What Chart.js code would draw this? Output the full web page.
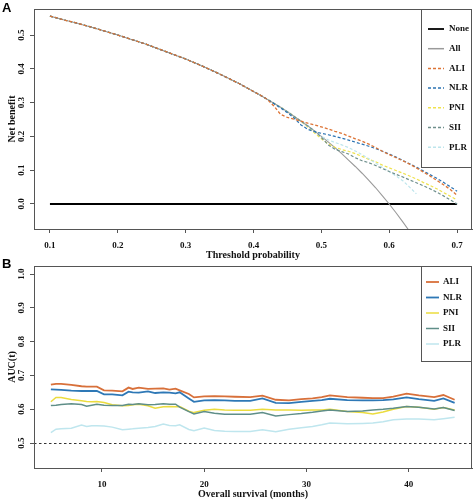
<!DOCTYPE html>
<html>
<head>
<meta charset="utf-8">
<script src="https://cdn.jsdelivr.net/npm/chart.js@4.4.1/dist/chart.umd.min.js"></script>
<style>
  html, body { margin: 0; padding: 0; background: #fff; }
  #wrap { position: relative; width: 475px; height: 500px; overflow: hidden; }
  canvas { position: absolute; left: 0; }
  #chartA { top: 0; }
  #chartB { top: 250px; }
</style>
</head>
<body>
<div id="wrap">
  <canvas id="chartA" width="475" height="262"></canvas>
  <canvas id="chartB" width="475" height="250"></canvas>
</div>
<script>
// ---- Panel A: decision curves ----
const thresholds = [0.10, 0.12, 0.14, 0.16, 0.18, 0.20, 0.22, 0.24, 0.26, 0.28, 0.30, 0.32, 0.34, 0.36, 0.38, 0.40,
  0.41, 0.42, 0.43, 0.44, 0.45, 0.46, 0.47, 0.48, 0.49, 0.50,
  0.51, 0.52, 0.53, 0.54, 0.55, 0.56, 0.57, 0.58, 0.59, 0.60,
  0.61, 0.62, 0.63, 0.64, 0.65, 0.66, 0.67, 0.68, 0.69, 0.70];
const noneX = [0.1, 0.7];
const noneNB = [0, 0];
const allNB = [0.556, 0.545, 0.535, 0.524, 0.512, 0.500, 0.487, 0.474, 0.459, 0.444, 0.429, 0.412, 0.394, 0.375, 0.355, 0.333,
  0.322, 0.310, 0.298, 0.286, 0.273, 0.259, 0.245, 0.231, 0.216, 0.200,
  0.184, 0.167, 0.149, 0.130, 0.111, 0.091, 0.070, 0.048, 0.024, 0.000,
  -0.026, -0.053, -0.081, -0.111, null, null, null, null, null, null];
const aliNB = [0.556, 0.545, 0.535, 0.524, 0.512, 0.500, 0.487, 0.474, 0.459, 0.444, 0.429, 0.412, 0.394, 0.375, 0.355, 0.333,
  0.322, 0.310, 0.290, 0.265, 0.256, 0.251, 0.245, 0.239, 0.234, 0.228,
  0.222, 0.215, 0.209, 0.201, 0.193, 0.186, 0.177, 0.167, 0.156, 0.146,
  0.137, 0.128, 0.118, 0.107, 0.095, 0.083, 0.070, 0.057, 0.043, 0.026];
const nlrNB = [0.556, 0.545, 0.535, 0.524, 0.512, 0.500, 0.487, 0.474, 0.459, 0.444, 0.429, 0.412, 0.394, 0.375, 0.355, 0.333,
  0.322, 0.310, 0.297, 0.284, 0.270, 0.254, 0.234, 0.221, 0.214, 0.209,
  0.205, 0.200, 0.195, 0.189, 0.183, 0.177, 0.171, 0.164, 0.156, 0.148,
  0.139, 0.129, 0.119, 0.109, 0.098, 0.087, 0.076, 0.064, 0.051, 0.038];
const pniNB = [0.556, 0.545, 0.535, 0.524, 0.512, 0.500, 0.487, 0.474, 0.459, 0.444, 0.429, 0.412, 0.394, 0.375, 0.355, 0.333,
  0.322, 0.310, 0.298, 0.286, 0.273, 0.259, 0.245, 0.228, 0.210, 0.193,
  0.178, 0.168, 0.161, 0.156, 0.149, 0.141, 0.132, 0.125, 0.115, 0.107,
  0.099, 0.091, 0.083, 0.074, 0.064, 0.055, 0.045, 0.034, 0.023, 0.012];
const siiNB = [0.556, 0.545, 0.535, 0.524, 0.512, 0.500, 0.487, 0.474, 0.459, 0.444, 0.429, 0.412, 0.394, 0.375, 0.355, 0.333,
  0.322, 0.310, 0.298, 0.286, 0.273, 0.259, 0.245, 0.231, 0.216, 0.197,
  0.175, 0.162, 0.155, 0.148, 0.137, 0.128, 0.122, 0.114, 0.105, 0.096,
  0.088, 0.080, 0.071, 0.063, 0.054, 0.045, 0.035, 0.024, 0.012, 0.000];
const plrNB = [0.556, 0.545, 0.535, 0.524, 0.512, 0.500, 0.487, 0.474, 0.459, 0.444, 0.429, 0.412, 0.394, 0.375, 0.355, 0.333,
  0.322, 0.310, 0.298, 0.286, 0.273, 0.259, 0.245, 0.231, 0.214, 0.200,
  0.190, 0.182, 0.175, 0.167, 0.157, 0.146, 0.134, 0.121, 0.108, 0.096,
  0.083, 0.069, 0.050, 0.030, null, null, null, null, null, null];

// ---- Panel B: time-dependent AUC ----
const months = [5, 5.5, 6, 7, 8, 8.5, 9, 9.5, 10.2, 11, 12, 12.6, 13, 13.6, 14.5, 15.2, 16, 16.6, 17.2, 17.6,
  18.5, 19, 20, 21, 22, 23, 24.5, 25.7, 27, 28.3, 29.5, 30.6, 31.5, 32.3, 34, 35.5, 36.5, 37.5, 38.5, 39.8,
  41, 42.5, 43.4, 44.5];
const aliAUC = [0.673, 0.675, 0.675, 0.672, 0.668, 0.667, 0.667, 0.667, 0.656, 0.655, 0.653, 0.664, 0.660, 0.664, 0.660, 0.661, 0.662, 0.658, 0.661, 0.656,
  0.645, 0.635, 0.638, 0.639, 0.638, 0.637, 0.636, 0.640, 0.628, 0.626, 0.630, 0.632, 0.636, 0.641, 0.636, 0.634, 0.633, 0.633, 0.637, 0.646,
  0.641, 0.636, 0.642, 0.628];
const nlrAUC = [0.659, 0.658, 0.657, 0.655, 0.654, 0.654, 0.654, 0.654, 0.644, 0.644, 0.641, 0.652, 0.650, 0.649, 0.653, 0.648, 0.650, 0.649, 0.647, 0.650,
  0.632, 0.622, 0.626, 0.627, 0.626, 0.625, 0.625, 0.632, 0.619, 0.618, 0.622, 0.625, 0.627, 0.631, 0.627, 0.626, 0.626, 0.627, 0.629, 0.635,
  0.630, 0.625, 0.632, 0.619];
const pniAUC = [0.622, 0.635, 0.635, 0.629, 0.625, 0.623, 0.622, 0.623, 0.620, 0.613, 0.610, 0.611, 0.613, 0.615, 0.610, 0.603, 0.607, 0.608, 0.607, 0.608,
  0.594, 0.590, 0.597, 0.600, 0.598, 0.597, 0.597, 0.600, 0.598, 0.598, 0.597, 0.598, 0.598, 0.600, 0.593, 0.590, 0.586, 0.592, 0.600, 0.608,
  0.606, 0.600, 0.605, 0.598];
const siiAUC = [0.611, 0.612, 0.614, 0.616, 0.614, 0.609, 0.612, 0.615, 0.612, 0.611, 0.611, 0.615, 0.614, 0.616, 0.613, 0.614, 0.616, 0.615, 0.615, 0.606,
  0.593, 0.586, 0.593, 0.588, 0.585, 0.585, 0.585, 0.590, 0.580, 0.584, 0.587, 0.591, 0.595, 0.598, 0.593, 0.595, 0.598, 0.600, 0.603, 0.608,
  0.606, 0.601, 0.605, 0.596];
const plrAUC = [0.531, 0.541, 0.542, 0.544, 0.553, 0.549, 0.551, 0.551, 0.550, 0.547, 0.539, 0.541, 0.542, 0.544, 0.546, 0.549, 0.556, 0.552, 0.551, 0.554,
  0.540, 0.536, 0.544, 0.537, 0.535, 0.534, 0.534, 0.539, 0.533, 0.541, 0.545, 0.549, 0.554, 0.559, 0.557, 0.558, 0.559, 0.563, 0.569, 0.571,
  0.571, 0.569, 0.572, 0.576];

const SERIF = "'Liberation Serif', 'Times New Roman', serif";
const AXIS = '#555';

function pts(xs, ys) {
  return xs.map((x, i) => ({ x: x, y: ys[i] }));
}

// frame, legend box, reference line and panel tag
const panelDecor = {
  id: 'panelDecor',
  afterDatasetsDraw(chart, args, opts) {
    const ctx = chart.ctx;
    const a = chart.chartArea;
    ctx.save();
    if (opts.refY !== undefined) {
      const y = Math.round(chart.scales.y.getPixelForValue(opts.refY)) + 0.5;
      ctx.strokeStyle = '#333';
      ctx.lineWidth = 1;
      ctx.setLineDash([2.5, 2.5]);
      ctx.beginPath();
      ctx.moveTo(a.left, y);
      ctx.lineTo(a.right, y);
      ctx.stroke();
      ctx.setLineDash([]);
    }
    // legend
    const lg = opts.legend;
    ctx.fillStyle = '#fff';
    ctx.fillRect(lg.left, a.top, a.right - lg.left, lg.height);
    ctx.strokeStyle = AXIS;
    ctx.lineWidth = 1;
    ctx.strokeRect(lg.left + 0.5, a.top + 0.5, a.right - lg.left - 1, lg.height);
    ctx.font = 'bold 9px ' + SERIF;
    ctx.textBaseline = 'middle';
    ctx.textAlign = 'left';
    let row = 0;
    chart.data.datasets.forEach(ds => {
      const y = a.top + lg.firstRow + row * lg.rowGap;
      ctx.strokeStyle = ds.borderColor;
      ctx.lineWidth = Math.max(ds.borderWidth, 1.5);
      ctx.setLineDash(ds.borderDash || []);
      ctx.beginPath();
      ctx.moveTo(lg.lineX1, y);
      ctx.lineTo(lg.lineX2, y);
      ctx.stroke();
      ctx.setLineDash([]);
      ctx.fillStyle = '#111';
      ctx.fillText(ds.label, lg.textX, y);
      row++;
    });
    // plot frame
    ctx.strokeStyle = AXIS;
    ctx.lineWidth = 1;
    ctx.strokeRect(a.left + 0.5, a.top + 0.5, a.right - a.left - 1, a.bottom - a.top);
    // panel tag
    ctx.fillStyle = '#000';
    ctx.font = "bold 13px 'Liberation Sans', Arial, sans-serif";
    ctx.textBaseline = 'top';
    ctx.fillText(opts.tag, opts.tagX, opts.tagY);
    ctx.restore();
  }
};

function axisOpts(min, max, step, title, isY, sizeFix, digits, titlePad) {
  return {
    type: 'linear',
    min: min,
    max: max,
    title: {
      display: true,
      text: title,
      color: '#111',
      font: { family: SERIF, size: 10, weight: 'bold' },
      padding: titlePad
    },
    border: { display: true, color: AXIS, width: 1 },
    grid: { display: true, drawOnChartArea: false, drawTicks: true, tickLength: 4, color: AXIS },
    ticks: {
      stepSize: step,
      includeBounds: false,
      color: '#111',
      font: { family: SERIF, size: 9, weight: 'bold' },
      padding: isY ? 3 : 7,
      minRotation: isY ? 90 : 0,
      maxRotation: isY ? 90 : 0,
      crossAlign: isY ? 'center' : 'near',
      callback: v => Number(v).toFixed(digits)
    },
    afterFit: s => { if (isY) s.width = sizeFix; else s.height = sizeFix; }
  };
}

const aColors = { none: '#000000', all: '#9a9a9a', ali: '#DD7436', nlr: '#2B73B3', pni: '#EFE24E', sii: '#6F8F8C', plr: '#BDE5EC' };
const dash = [3, 2];

// ALI is drawn last so it sits on top where the curves overlap
new Chart(document.getElementById('chartA'), {
  type: 'line',
  data: {
    datasets: [
      { label: 'None', data: pts(noneX, noneNB), borderColor: aColors.none, borderWidth: 1.8, order: 6 },
      { label: 'All', data: pts(thresholds, allNB), borderColor: aColors.all, borderWidth: 1.1, order: 5 },
      { label: 'ALI', data: pts(thresholds, aliNB), borderColor: aColors.ali, borderWidth: 1.3, borderDash: dash, order: 0 },
      { label: 'NLR', data: pts(thresholds, nlrNB), borderColor: aColors.nlr, borderWidth: 1.2, borderDash: dash, order: 1 },
      { label: 'PNI', data: pts(thresholds, pniNB), borderColor: aColors.pni, borderWidth: 1.2, borderDash: dash, order: 4 },
      { label: 'SII', data: pts(thresholds, siiNB), borderColor: aColors.sii, borderWidth: 1.2, borderDash: dash, order: 2 },
      { label: 'PLR', data: pts(thresholds, plrNB), borderColor: aColors.plr, borderWidth: 1.2, borderDash: dash, order: 3 }
    ]
  },
  options: {
    responsive: false,
    animation: false,
    layout: { padding: { left: 0, top: 9, right: 3, bottom: 0 } },
    elements: { point: { radius: 0 }, line: { tension: 0 } },
    plugins: {
      legend: { display: false },
      tooltip: { enabled: false },
      panelDecor: {
        tag: 'A', tagX: 2, tagY: 2,
        legend: { left: 421, height: 158, firstRow: 20, rowGap: 19.7, lineX1: 428, lineX2: 444, textX: 449 }
      }
    },
    scales: {
      x: axisOpts(0.0765, 0.722, 0.1, 'Threshold probability', false, 33, 1, { top: 0, bottom: 1 }),
      y: axisOpts(-0.074, 0.577, 0.1, 'Net benefit', true, 34, 1, { top: 6, bottom: 0 })
    }
  },
  plugins: [panelDecor]
});

const bColors = { ali: '#D8703A', nlr: '#2E78B6', pni: '#EBDC3E', sii: '#5F8E88', plr: '#BFE6EE' };

new Chart(document.getElementById('chartB'), {
  type: 'line',
  data: {
    datasets: [
      { label: 'ALI', data: pts(months, aliAUC), borderColor: bColors.ali, borderWidth: 1.8, order: 4 },
      { label: 'NLR', data: pts(months, nlrAUC), borderColor: bColors.nlr, borderWidth: 1.8, order: 3 },
      { label: 'PNI', data: pts(months, pniAUC), borderColor: bColors.pni, borderWidth: 1.5, order: 2 },
      { label: 'SII', data: pts(months, siiAUC), borderColor: bColors.sii, borderWidth: 1.5, order: 1 },
      { label: 'PLR', data: pts(months, plrAUC), borderColor: bColors.plr, borderWidth: 1.5, order: 0 }
    ]
  },
  options: {
    responsive: false,
    animation: false,
    layout: { padding: { left: 0, top: 16, right: 3, bottom: 0 } },
    elements: { point: { radius: 0 }, line: { tension: 0 } },
    plugins: {
      legend: { display: false },
      tooltip: { enabled: false },
      panelDecor: {
        tag: 'B', tagX: 2, tagY: 8, refY: 0.5,
        legend: { left: 421, height: 95, firstRow: 16, rowGap: 15.5, lineX1: 426, lineX2: 439, textX: 443 }
      }
    },
    scales: {
      x: axisOpts(3.35, 46.2, 10, 'Overall survival (months)', false, 32, 0, { top: 0, bottom: 0 }),
      y: axisOpts(0.426, 1.024, 0.1, 'AUC(t)', true, 34, 1, { top: 6, bottom: 0 })
    }
  },
  plugins: [panelDecor]
});
</script>
</body>
</html>
